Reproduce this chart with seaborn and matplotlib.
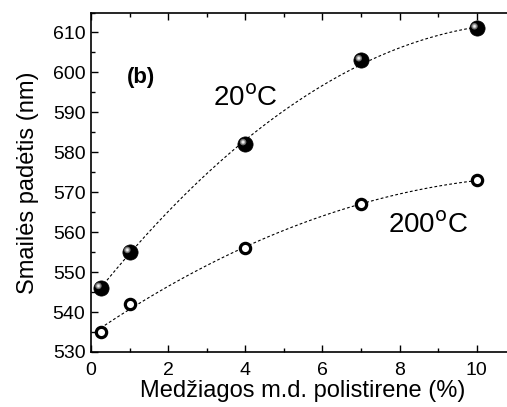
import numpy as np
import pandas as pd
import matplotlib
matplotlib.use("Agg")
import matplotlib.pyplot as plt
import matplotlib.transforms as mtransforms
import seaborn as sns
from matplotlib.ticker import MultipleLocator

sns.set_style("ticks")
plt.rcParams['font.family'] = ['Liberation Sans', 'DejaVu Sans']
plt.rcParams['text.color'] = 'black'
plt.rcParams['axes.labelcolor'] = 'black'
plt.rcParams['xtick.color'] = 'black'
plt.rcParams['ytick.color'] = 'black'

conc = [0.25, 1, 4, 7, 10]
peak_20C = [546, 555, 582, 603, 611]
peak_200C = [535, 542, 556, 567, 573]
xticks = [0, 2, 4, 6, 8, 10]
yticks = [530, 540, 550, 560, 570, 580, 590, 600, 610]

df20 = pd.DataFrame({"x": conc, "y": peak_20C})
df200 = pd.DataFrame({"x": conc, "y": peak_200C})

fig = plt.figure(figsize=(5.07, 4.07), dpi=100)
ax = fig.add_axes([91/507, 55/407, 424.3/507, 339.5/407])

line_kws = dict(color="black", lw=0.8, ls=(0, (2.5, 2)))
sns.regplot(data=df20, x="x", y="y", order=2, ci=None, scatter=False,
            line_kws=line_kws, ax=ax)
sns.regplot(data=df200, x="x", y="y", order=2, ci=None, scatter=False,
            line_kws=line_kws, ax=ax)

# filled spheres
sns.scatterplot(data=df20, x="x", y="y", s=120, color="black",
                edgecolor="black", linewidth=0.5, ax=ax, zorder=5)
hl = mtransforms.offset_copy(ax.transData, fig=fig, x=-1.6, y=1.6, units="points")
ax.scatter(conc, peak_20C, s=22, color="#6e6e6e", edgecolors="none",
           transform=hl, zorder=6)
ax.scatter(conc, peak_20C, s=9, color="#b5b5b5", edgecolors="none",
           transform=hl, zorder=7)
ax.scatter(conc, peak_20C, s=3, color="#eeeeee", edgecolors="none",
           transform=hl, zorder=8)

# open circles
sns.scatterplot(data=df200, x="x", y="y", s=55, color="white",
                edgecolor="black", linewidth=2.3, ax=ax, zorder=5)

ax.set_xlim(0, 11)
ax.set_ylim(530, 615)
ax.set_xticks(xticks)
ax.set_yticks(yticks)
ax.xaxis.set_minor_locator(MultipleLocator(1))
ax.yaxis.set_minor_locator(MultipleLocator(5))
ax.tick_params(which="both", direction="in", top=True, right=True,
               labelsize=14, width=1, color="black", labelcolor="black")
ax.tick_params(which="major", length=5)
ax.tick_params(which="minor", length=3)
ax.tick_params(axis="x", which="major", pad=7)
ax.tick_params(axis="y", which="major", pad=4)
for s in ax.spines.values():
    s.set_linewidth(1.2)
    s.set_color("black")

ax.set_xlabel("Medžiagos m.d. polistirene (%)", fontsize=17, labelpad=1)
ax.set_ylabel("Smailės padėtis (nm)", fontsize=17, labelpad=10)

ax.text(0.93, 598.8, "(b)", fontsize=16, fontweight="bold", va="center", ha="left")
ax.text(3.15, 593.5, "20$^{\\mathrm{o}}$C", fontsize=20, va="center", ha="left")
ax.text(7.7, 561.5, "200$^{\\mathrm{o}}$C", fontsize=20, va="center", ha="left")

fig.savefig("out.png", dpi=100)
